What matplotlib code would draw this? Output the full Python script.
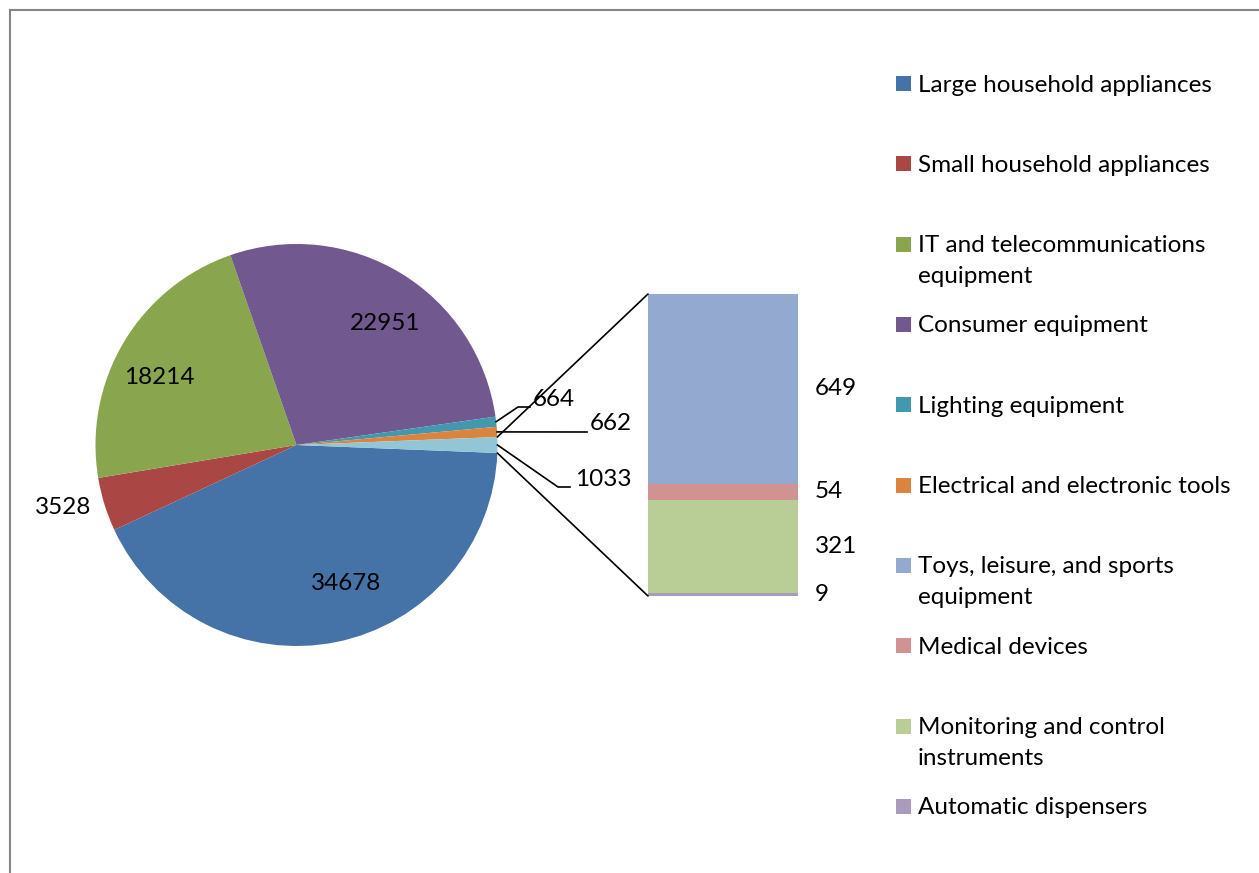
import matplotlib
matplotlib.use("Agg")
import matplotlib.pyplot as plt
from matplotlib.patches import ConnectionPatch, Rectangle
from matplotlib.lines import Line2D
import matplotlib.transforms as mtransforms
import numpy as np

# ---------------- data ----------------
pie_categories = ["Large household appliances", "Small household appliances",
                  "IT and telecommunications equipment", "Consumer equipment",
                  "Lighting equipment", "Electrical and electronic tools", "Other"]
pie_values = [34678, 3528, 18214, 22951, 664, 662, 1033]
pie_colors = ["#4572A7", "#AA4643", "#89A54E", "#71588F", "#4198AF", "#DB843D", "#92C5D6"]

bar_categories = ["Toys, leisure, and sports equipment", "Medical devices",
                  "Monitoring and control instruments", "Automatic dispensers"]
bar_values = [649, 54, 321, 9]
bar_colors = ["#93A9CF", "#D19392", "#B9CD96", "#A99BBD"]

legend_labels = ["Large household appliances", "Small household appliances",
                 "IT and telecommunications\nequipment", "Consumer equipment",
                 "Lighting equipment", "Electrical and electronic tools",
                 "Toys, leisure, and sports\nequipment", "Medical devices",
                 "Monitoring and control\ninstruments", "Automatic dispensers"]
legend_colors = pie_colors[:6] + bar_colors

# ---------------- layout ----------------
W, H = 1259, 873
FONT = "Lato"
FS = 17.5
plt.rcParams['font.family'] = [FONT, 'DejaVu Sans']

fig = plt.figure(figsize=(W / 100, H / 100), dpi=100)
fig.patch.set_facecolor("white")

def fx(x):
    return x / W

def fy(y):
    return 1 - y / H

# ---------- pie ----------
PCX, PCY, PR = 296.5, 445, 201
ax_pie = fig.add_axes([fx(PCX - PR), fy(PCY + PR), 2 * PR / W, 2 * PR / H])
total = sum(pie_values)
start = -360 * pie_values[-1] / total / 2
wedges, _ = ax_pie.pie(pie_values, colors=pie_colors, startangle=start,
                       counterclock=False, radius=1,
                       wedgeprops=dict(linewidth=0))
ax_pie.set_xlim(-1, 1)
ax_pie.set_ylim(-1, 1)
ax_pie.axis("off")

# ---------- bar ----------
BX0, BX1, BY0, BY1 = 648, 798, 294, 596
ax_bar = fig.add_axes([fx(BX0), fy(BY1), (BX1 - BX0) / W, (BY1 - BY0) / H])
bar_total = sum(bar_values)
ax_bar.set_xlim(0, 1)
ax_bar.set_ylim(0, bar_total)
ax_bar.axis("off")
bottom = 0
trans = mtransforms.blended_transform_factory(ax_bar.transAxes, ax_bar.transData)
for v, c in zip(bar_values[::-1], bar_colors[::-1]):
    ax_bar.bar(0.5, v, width=1.0, bottom=bottom, color=c, linewidth=0)
    ax_bar.text(1.113, bottom + v / 2, str(v), transform=trans, ha="left",
                va="center", fontsize=FS, clip_on=False)
    bottom += v

# overlay axes in pixel coordinates (for labels / leader lines / borders)
ov = fig.add_axes([0, 0, 1, 1])
ov.set_zorder(10)
ov.patch.set_alpha(0)
ov.set_xlim(0, W)
ov.set_ylim(H, 0)
ov.axis("off")

# chart border (top and left visible)
ov.add_line(Line2D([10.5, W + 5], [9.5, 9.5], color="#868686", lw=1.5))
ov.add_line(Line2D([10.5, 10.5], [9.5, H + 5], color="#868686", lw=1.5))

# wedge middle angles
mids = [np.deg2rad((w.theta1 + w.theta2) / 2) for w in wedges]

def edge_px(i):
    a = mids[i]
    return PCX + PR * np.cos(a), PCY - PR * np.sin(a)

# inside / outside labels (pixel positions)
label_pos = {0: (346, 583), 1: (63, 508), 2: (159, 378), 3: (385, 323)}
for i, (x, y) in label_pos.items():
    ov.text(x, y, str(pie_values[i]), ha="center", va="center", fontsize=FS,
            color="black")

# small slices with leader lines
sx, sy = edge_px(4)
ov.plot([sx, 518, 530], [sy, 407, 407], color="black", lw=1.2)
ov.text(533, 399, str(pie_values[4]), ha="left", va="center", fontsize=FS)

sx, sy = edge_px(5)
ov.plot([sx, 587], [sy, 432], color="black", lw=1.2)
ov.text(590, 423, str(pie_values[5]), ha="left", va="center", fontsize=FS)

sx, sy = edge_px(6)
ov.plot([sx, 558, 570], [sy, 487, 487], color="black", lw=1.2)
ov.text(575, 479, str(pie_values[6]), ha="left", va="center", fontsize=FS)

# connector lines
a_top = np.deg2rad(wedges[-1].theta2)
a_bot = np.deg2rad(wedges[-1].theta1)
for a, yb in [(a_top, bar_total), (a_bot, 0)]:
    con = ConnectionPatch(xyA=(np.cos(a), np.sin(a)), coordsA=ax_pie.transData,
                          xyB=(0, yb), coordsB=ax_bar.transData,
                          color="black", lw=1.2)
    fig.add_artist(con)

# ---------- legend ----------
LY0, LDY = 83.5, 80.33
for i, (lab, c) in enumerate(zip(legend_labels, legend_colors)):
    yc = LY0 + i * LDY
    ov.add_patch(Rectangle((896, yc - 7.5), 15, 15, facecolor=c, edgecolor="none"))
    for j, line in enumerate(lab.split("\n")):
        ov.text(918, yc + 8 + 31 * j, line, ha="left", va="baseline",
                fontsize=FS, color="black")

fig.savefig("out.png", dpi=100, facecolor="white")
